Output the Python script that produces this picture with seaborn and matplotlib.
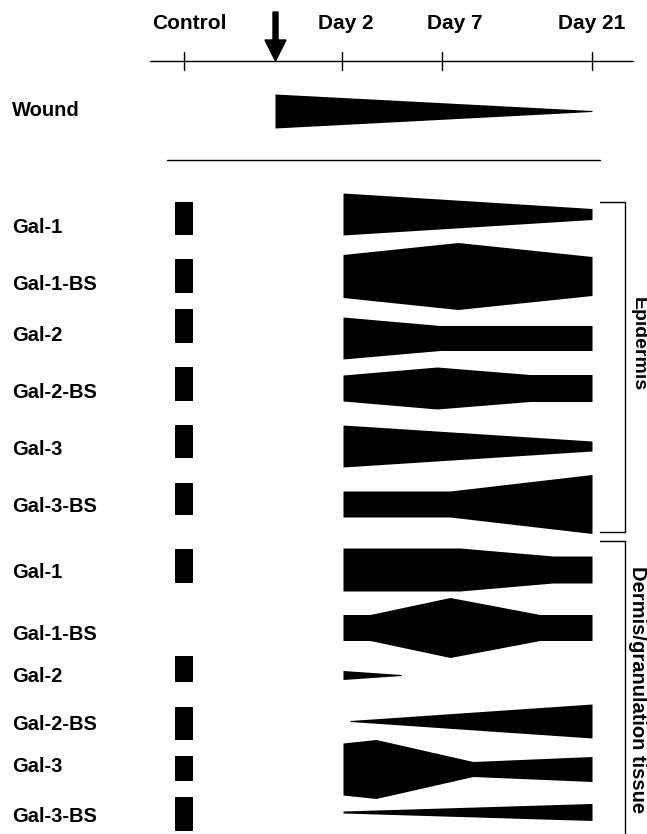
import numpy as np
import matplotlib
matplotlib.use('Agg')
import matplotlib.pyplot as plt
import seaborn as sns

# time axis (schematic positions)
time_labels = ['Control', 'Day 2', 'Day 7', 'Day 21']
time_pos = [184, 342, 442, 592]
wound_pos = 275

# rows: label, expression profile (x breakpoints, half-thickness)
wound_x = [275, 592]
wound_w = [17, 0.5]

epi_labels = ['Gal-1', 'Gal-1-BS', 'Gal-2', 'Gal-2-BS', 'Gal-3', 'Gal-3-BS']
epi_ctrl = [16.5, 17, 17, 17, 16.5, 16]
epi_x = [
    [343, 592],
    [343, 458, 592],
    [343, 440, 592],
    [343, 437, 530, 592],
    [343, 592],
    [343, 450, 592],
]
epi_w = [
    [21, 5.5],
    [21.5, 33.5, 19.5],
    [21, 12.5, 12.5],
    [13, 21, 13.5, 13.5],
    [21, 5],
    [13, 13, 29.5],
]

der_labels = ['Gal-1', 'Gal-1-BS', 'Gal-2', 'Gal-2-BS', 'Gal-3', 'Gal-3-BS']
der_ctrl = [17, 0, 13, 16.5, 12.5, 17]
der_x = [
    [343, 460, 553, 592],
    [343, 370, 450, 540, 592],
    [343, 401],
    [350, 592],
    [343, 376, 473, 592],
    [343, 592],
]
der_w = [
    [21.5, 21.5, 13.5, 13.5],
    [13, 13, 30, 13, 13],
    [4.5, 0.5],
    [0.5, 17],
    [26, 29.5, 7.5, 12.5],
    [1, 8.5],
]

# layout (row centres in pixel units)
epi_label_y = [227, 284, 335, 392, 449, 507]
epi_ctrl_y = [218.5, 276, 326, 384, 441.5, 499]
epi_shape_y = [214, 276, 338, 388, 446, 504]
der_label_y = [573, 634, 677, 724, 767, 816]
der_ctrl_y = [566, 627, 669, 723.5, 768.5, 814]
der_shape_y = [569.5, 627.5, 675, 721, 769, 812]

sns.set_theme(style="white")
plt.rcParams['font.family'] = ['Liberation Sans', 'DejaVu Sans']
plt.rcParams['text.color'] = 'black'

fig = plt.figure(figsize=(6.47, 8.34), dpi=100)
ax = fig.add_axes([0, 0, 1, 1])
ax.set_xlim(0, 647)
ax.set_ylim(834, 0)
ax.axis('off')

# timeline
ax.plot([150, 633], [61, 61], color='black', lw=1)
for x in time_pos:
    ax.plot([x, x], [52, 70], color='black', lw=1)
text_x = [189, 346, 455, 592]
for x, lab in zip(text_x, time_labels):
    ax.text(x, 23, lab, ha='center', va='center', fontsize=15, fontweight='bold')
ax.arrow(wound_pos + 0.5, 12, 0, 49, width=5, head_width=21, head_length=21,
         length_includes_head=True, color='black')

# wound row
ax.text(12, 110, 'Wound', ha='left', va='center', fontsize=14.5, fontweight='bold')
wx = np.array(wound_x)
ww = np.array(wound_w)
ax.fill_between(wx, 111 - ww, 111 + ww, color='black', lw=0)
ax.plot([167, 600], [160, 160], color='black', lw=1)


def draw_rows(labels, ctrl, xs, ws, label_y, ctrl_y, shape_y):
    for i, lab in enumerate(labels):
        ax.text(12, label_y[i], lab, ha='left', va='center', fontsize=14.5,
                fontweight='bold')
        if ctrl[i] > 0:
            ax.fill_between([175, 193], ctrl_y[i] - ctrl[i], ctrl_y[i] + ctrl[i],
                            color='black', lw=0)
        x = np.array(xs[i])
        w = np.array(ws[i])
        ax.fill_between(x, shape_y[i] - w, shape_y[i] + w, color='black', lw=0)


draw_rows(epi_labels, epi_ctrl, epi_x, epi_w, epi_label_y, epi_ctrl_y, epi_shape_y)
draw_rows(der_labels, der_ctrl, der_x, der_w, der_label_y, der_ctrl_y, der_shape_y)

# brackets
ax.plot([600, 625, 625, 600], [202, 202, 532, 532], color='black', lw=1)
ax.plot([600, 625, 625], [541, 541, 834], color='black', lw=1)
ax.text(638, 344, 'Epidermis', rotation=-90, ha='center', va='center',
        fontsize=14, fontweight='bold')
ax.text(638, 690, 'Dermis/granulation tissue', rotation=-90, ha='center',
        va='center', fontsize=14.5, fontweight='bold')

fig.savefig('out.png', dpi=100)
